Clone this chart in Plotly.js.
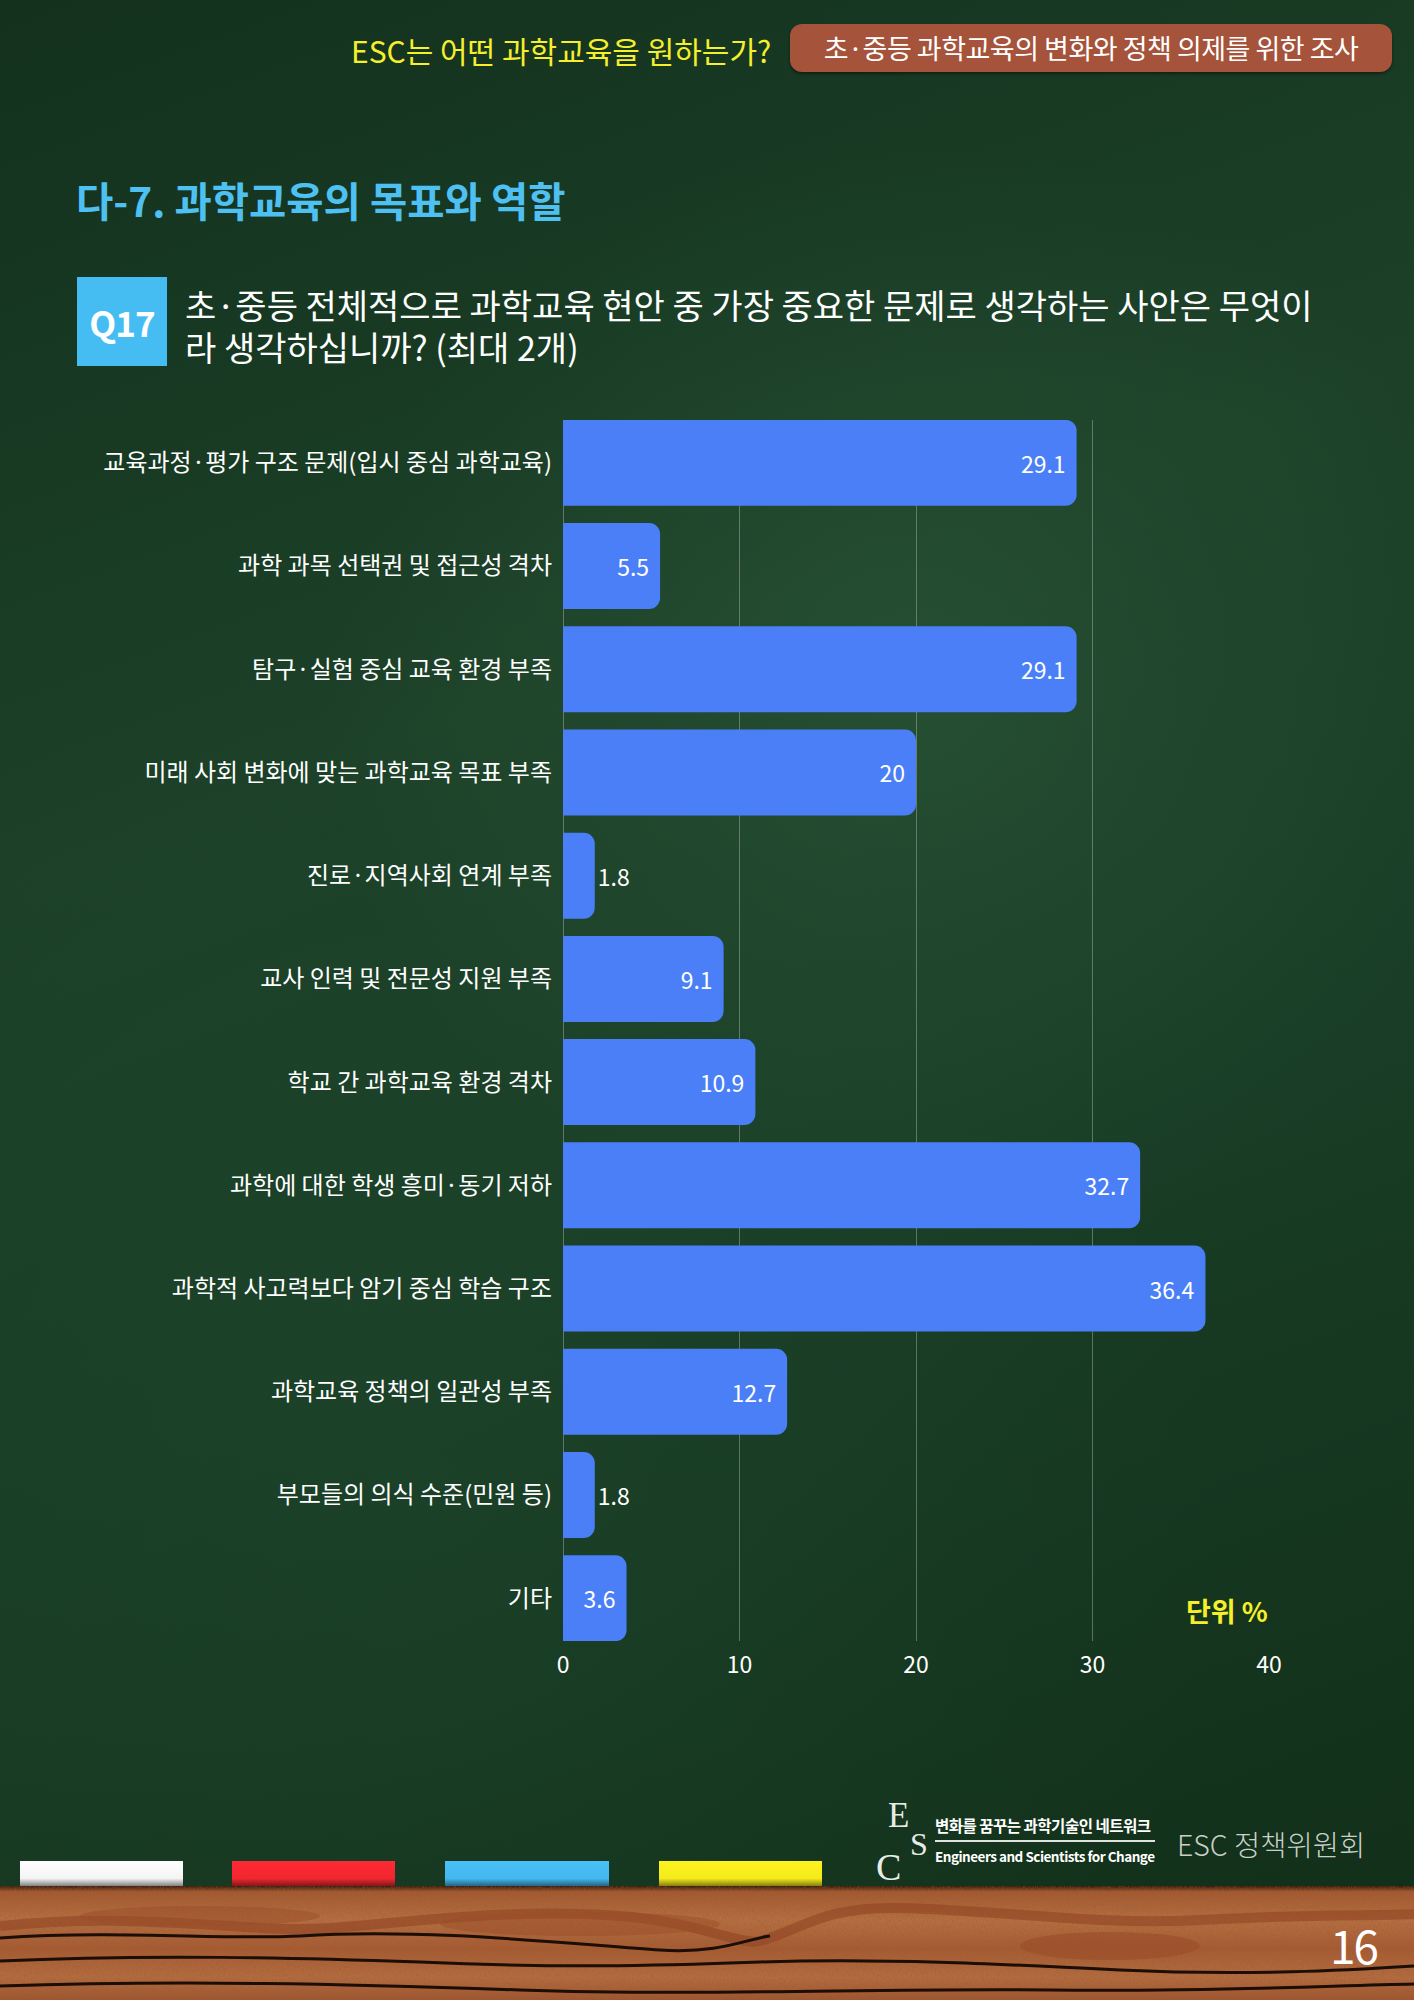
<!DOCTYPE html>
<html>
<head>
<meta charset="utf-8">
<script src="https://cdn.plot.ly/plotly-3.0.1.min.js"></script>
<style>
  html, body { margin:0; padding:0; }
  body { width:1414px; height:2000px; position:relative; overflow:hidden;
    font-family:"Noto Sans CJK KR","Noto Sans",sans-serif;
    background:
      radial-gradient(ellipse 60% 40% at 65% 35%, rgba(60,110,75,0.30) 0%, rgba(0,0,0,0) 70%),
      radial-gradient(ellipse 80% 60% at 30% 75%, rgba(40,85,55,0.22) 0%, rgba(0,0,0,0) 70%),
      linear-gradient(160deg, #13311d 0%, #1c4128 35%, #193d26 60%, #112e18 100%);
  }
  .abs { position:absolute; white-space:nowrap; }
  #chart { position:absolute; left:0; top:0; width:1414px; height:2000px; }
</style>
</head>
<body>
<div class="abs" style="left:351px; top:29px; font-size:30px; color:#f5ef2c; line-height:42px;">ESC는 어떤 과학교육을 원하는가?</div>
<div class="abs" style="left:790px; top:24px; width:602px; height:48px; background:#a5533a; border-radius:12px; box-shadow:0 2px 3px rgba(0,0,0,0.4);"></div>
<div class="abs" style="left:790px; top:24px; width:602px; height:48px; line-height:48px; text-align:center; font-size:27px; color:#ffffff; letter-spacing:-0.5px;">초·중등 과학교육의 변화와 정책 의제를 위한 조사</div>

<div class="abs" style="left:76px; top:178px; font-size:40.5px; font-weight:bold; color:#4fc0f2; line-height:44px;">다-7. 과학교육의 목표와 역할</div>

<div class="abs" style="left:77px; top:277px; width:90px; height:89px; background:#45bdf2;"></div>
<div class="abs" style="left:77px; top:277px; width:90px; height:89px; line-height:89px; text-align:center; font-size:35px; font-weight:bold; color:#ffffff; letter-spacing:-1px;">Q17</div>
<div class="abs" style="left:185px; top:285px; font-size:34px; color:#ffffff; line-height:40px;">초·중등 전체적으로 과학교육 현안 중 가장 중요한 문제로 생각하는 사안은 무엇이</div>
<div class="abs" style="left:185px; top:327px; font-size:34px; color:#ffffff; line-height:40px;">라 생각하십니까? (최대 2개)</div>

<div id="chart"></div>

<!-- footer logo -->
<div class="abs" style="left:888px; top:1798px; font-family:'Liberation Serif','DejaVu Serif',serif; font-size:35px; color:#e8ece8; line-height:36px;">E</div>
<div class="abs" style="left:910px; top:1828px; font-family:'Liberation Serif','DejaVu Serif',serif; font-size:32px; color:#e8ece8; line-height:32px;">S</div>
<div class="abs" style="left:876px; top:1848px; font-family:'Liberation Serif','DejaVu Serif',serif; font-size:38px; color:#e8ece8; line-height:38px;">C</div>
<div class="abs" style="left:935px; top:1815px; font-size:15.5px; font-weight:bold; color:#ffffff; line-height:20px; letter-spacing:-0.5px;">변화를 꿈꾸는 과학기술인 네트워크</div>
<div class="abs" style="left:935px; top:1840px; width:220px; height:2px; background:#e0e4e0;"></div>
<div class="abs" style="left:935px; top:1846px; font-size:13.5px; font-weight:bold; color:#ffffff; line-height:20px; letter-spacing:-0.5px;">Engineers and Scientists for Change</div>
<div class="abs" style="left:1177px; top:1826px; font-size:28.5px; font-weight:300; color:#c9d0c9; line-height:36px;">ESC 정책위원회</div>

<!-- chalk bars -->
<div class="abs" style="left:20px; top:1861px; width:163px; height:29px; background:linear-gradient(180deg,#ffffff 0%,#f4f4f4 60%,#444 100%);"></div>
<div class="abs" style="left:232px; top:1861px; width:163px; height:29px; background:linear-gradient(180deg,#ff2a36 0%,#f0262f 60%,#4a1010 100%);"></div>
<div class="abs" style="left:445px; top:1861px; width:164px; height:29px; background:linear-gradient(180deg,#4ac0f6 0%,#44b8ee 60%,#123a4a 100%);"></div>
<div class="abs" style="left:659px; top:1861px; width:163px; height:29px; background:linear-gradient(180deg,#fff31e 0%,#f4ea1c 60%,#4a4608 100%);"></div>

<!-- wood ledge -->
<div class="abs" style="left:0; top:1886px; width:1414px; height:114px; background:linear-gradient(180deg,#3a1a0a 0%,#a5582f 5%,#b86e40 30%,#a85a31 55%,#b66b3e 80%,#a0552e 100%);">
  <svg width="1414" height="114" style="position:absolute;left:0;top:0">
    <defs>
      <filter id="grain"><feTurbulence type="fractalNoise" baseFrequency="0.9 0.35" numOctaves="2" seed="3"/><feColorMatrix values="0 0 0 0 0.25  0 0 0 0 0.12  0 0 0 0 0.05  0 0 0 1.2 -0.45"/></filter>
    </defs>
    <rect width="1414" height="114" filter="url(#grain)" opacity="0.8"/>
    <path d="M0,40 C150,25 250,48 330,42 C420,35 520,22 620,30 C700,36 740,60 760,55 C800,45 820,20 900,22 C1000,24 1100,40 1200,34 C1300,28 1380,30 1414,28" stroke="#8f4523" stroke-width="10" fill="none" opacity="0.6"/>
    <path d="M0,52 C120,44 220,54 300,50 C420,42 560,57 660,64 C720,68 750,52 770,50" stroke="#1c0d05" stroke-width="3" fill="none"/>
    <path d="M0,75 C150,68 300,72 420,76 C560,82 650,80 760,76 C880,72 1000,78 1120,84 C1250,90 1350,84 1414,80" stroke="#1c0d05" stroke-width="3" fill="none"/>
    <path d="M0,100 C180,94 350,98 520,104 C700,110 880,102 1050,104 C1200,106 1320,100 1414,98" stroke="#1c0d05" stroke-width="3" fill="none"/>
    <ellipse cx="1110" cy="60" rx="90" ry="14" fill="#9a4d28" opacity="0.6"/>
    <ellipse cx="580" cy="38" rx="140" ry="12" fill="#9a4d28" opacity="0.5"/>
    <ellipse cx="200" cy="30" rx="120" ry="10" fill="#9a4d28" opacity="0.5"/>
  </svg>
</div>
<div class="abs" style="left:1330px; top:1916px; font-size:46px; color:#ffffff; line-height:56px; letter-spacing:-2px;">16</div>

<script>
const categories = [
  "교육과정·평가 구조 문제(입시 중심 과학교육)",
  "과학 과목 선택권 및 접근성 격차",
  "탐구·실험 중심 교육 환경 부족",
  "미래 사회 변화에 맞는 과학교육 목표 부족",
  "진로·지역사회 연계 부족",
  "교사 인력 및 전문성 지원 부족",
  "학교 간 과학교육 환경 격차",
  "과학에 대한 학생 흥미·동기 저하",
  "과학적 사고력보다 암기 중심 학습 구조",
  "과학교육 정책의 일관성 부족",
  "부모들의 의식 수준(민원 등)",
  "기타"
];
const values = [29.1, 5.5, 29.1, 20, 1.8, 9.1, 10.9, 32.7, 36.4, 12.7, 1.8, 3.6];
const xTicks = [0, 10, 20, 30, 40];
const unitLabel = "단위 %";

const trace = {
  type: 'bar',
  orientation: 'h',
  y: categories,
  x: values,
  text: values.map(v => String(v)),
  texttemplate: '%{text}',
  textposition: values.map(v => v < 3 ? 'outside' : 'inside'),
  insidetextanchor: 'end',
  constraintext: 'none',
  cliponaxis: false,
  textfont: { family: 'Noto Sans CJK KR, Noto Sans, sans-serif', size: 23, color: '#ffffff' },
  insidetextfont: { color: '#ffffff', size: 23 },
  outsidetextfont: { color: '#ffffff', size: 23 },
  marker: { color: '#4a7ff7', cornerradius: 11, line: { width: 0 } },
  hoverinfo: 'none'
};

const layout = {
  width: 1414, height: 2000,
  paper_bgcolor: 'rgba(0,0,0,0)',
  plot_bgcolor: 'rgba(0,0,0,0)',
  margin: { l: 563, r: 145, t: 420, b: 359, pad: 0 },
  showlegend: false,
  bargap: 0.167,
  font: { family: 'Noto Sans CJK KR, Noto Sans, sans-serif', color: '#ffffff', size: 24 },
  xaxis: {
    range: [0, 40],
    tickvals: xTicks,
    ticktext: xTicks.map(String),
    showgrid: true,
    gridcolor: 'rgba(220,220,220,0.35)',
    gridwidth: 1,
    zeroline: true,
    zerolinecolor: 'rgba(220,220,220,0.35)',
    zerolinewidth: 1,
    showline: false,
    ticks: '',
    ticklabelstandoff: 8,
    tickfont: { size: 23, color: '#ffffff' }
  },
  yaxis: {
    type: 'category',
    categoryorder: 'array',
    categoryarray: categories,
    range: [11.415, -0.415],
    showgrid: false,
    zeroline: false,
    showline: false,
    ticks: '',
    ticklabelstandoff: 10,
    tickfont: { size: 24, color: '#ffffff' }
  },
  annotations: [{
    text: unitLabel,
    xref: 'x', yref: 'paper',
    x: 37.6, y: 0.025,
    xanchor: 'center', yanchor: 'middle',
    showarrow: false,
    font: { size: 27, color: '#f5ef2c', family: 'Noto Sans CJK KR, sans-serif', weight: 'bold' }
  }]
};

Plotly.newPlot('chart', [trace], layout, { displayModeBar: false, staticPlot: true });
</script>
</body>
</html>
